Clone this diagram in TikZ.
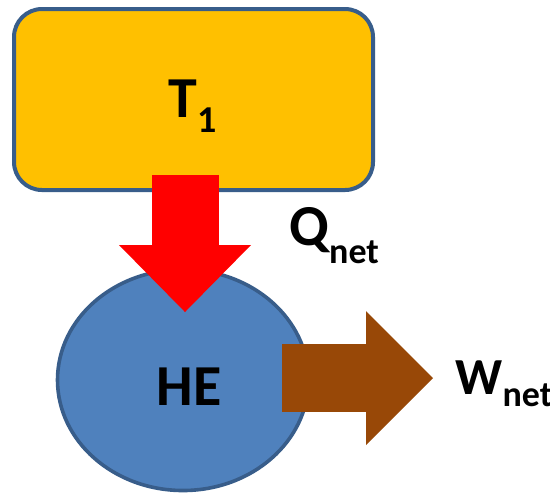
\documentclass[tikz,border=0pt]{standalone}
\usepackage{fontspec}
\setmainfont{Carlito}
\usepackage{tikz}
\usetikzlibrary{arrows.meta,calc,shapes.geometric}
\definecolor{resFill}{RGB}{255,192,0}
\definecolor{heLine}{RGB}{56,93,138}
\definecolor{heFill}{RGB}{79,129,189}
\definecolor{workBrown}{RGB}{152,72,7}
\newcommand{\sublbl}[3]{\raisebox{-#1}{\fontsize{#2}{#2}\selectfont #3}}

\begin{document}
\begin{tikzpicture}[x=0.5pt, y=-0.5pt,
  resbox/.style={draw=heLine, line width=2pt, rounded corners=14pt,
                 fill=resFill, outer sep=0pt, inner sep=0pt,
                 minimum width=179.5pt, minimum height=90.5pt},
  enginebox/.style={ellipse, draw=heLine, line width=1.8pt, fill=heFill,
                    outer sep=0pt, inner sep=0pt,
                    minimum width=125.5pt, minimum height=110.5pt},
  lbl/.style={font=\fontsize{29}{29}\selectfont\bfseries, inner sep=0pt},
  heatarr/.style={-{Triangle[length=33.5pt, width=66pt, line width=0pt]},
                  line width=33.5pt, red},
  workarr/.style={-{Triangle[length=33.5pt, width=67pt, line width=0pt]},
                  line width=34pt, workBrown}
]
\useasboundingbox (0,0) rectangle (550,495);
%% Reservoir and engine
\node[resbox] (reservoir) at (193.5,99.5) {};
\node[enginebox] (engine) at (183,380) {};
%% Heat in, work out
\draw[heatarr] ($(reservoir.center)+(-8.5,75.5)$) -- ($(engine.center)+(2,-68)$);
\draw[workarr] ($(engine.center)+(99,-2)$) -- ($(engine.center)+(250,-2)$);
%% Labels
\node[lbl, anchor=base west] (tlbl) at (168,117) {T\sublbl{7.5pt}{19}{1}};
\node[lbl, anchor=base] (helbl) at (189,405) {HE};
\node[lbl, anchor=base west] (qlbl) at (289,245) {Q\sublbl{9pt}{18}{net}};
\node[lbl, anchor=base west, font=\fontsize{26}{26}\selectfont\bfseries]
  (wlbl) at (455,394) {W\sublbl{6pt}{18}{net}};
\end{tikzpicture}
\end{document}
